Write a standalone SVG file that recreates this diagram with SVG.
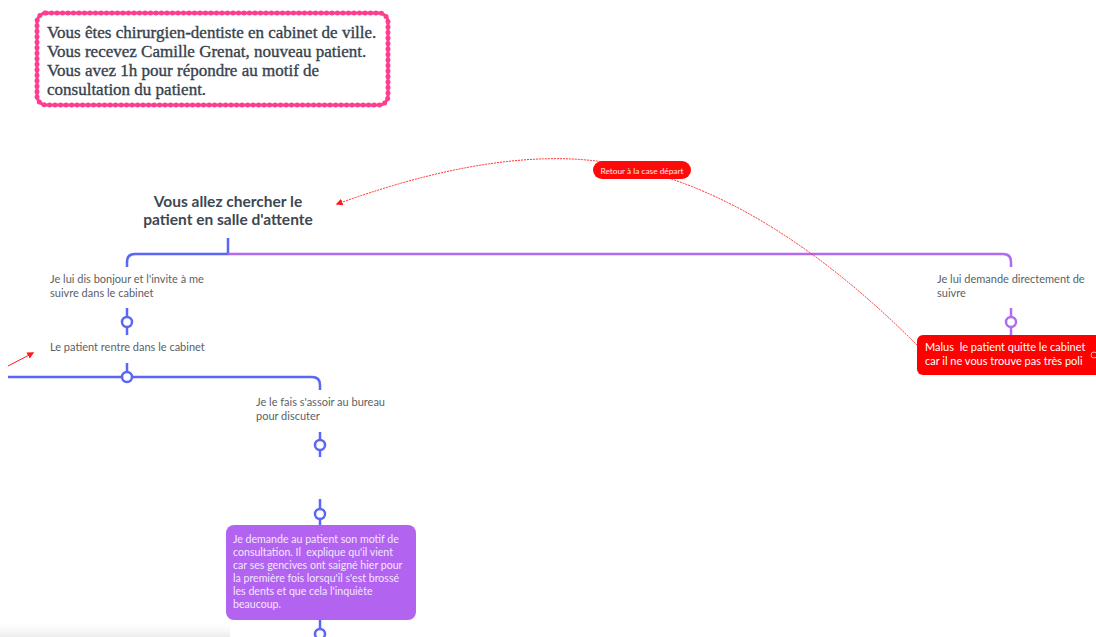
<svg xmlns="http://www.w3.org/2000/svg" width="1096" height="637" viewBox="0 0 1096 637">
<defs>
<marker id="redArrow" viewBox="0 0 10 10" refX="8" refY="5" markerWidth="7" markerHeight="7" orient="auto" markerUnits="userSpaceOnUse">
<path d="M0,0 L10,5 L0,10 z" fill="#ff1a1a"/>
</marker>
<linearGradient id="shade" x1="0" y1="0" x2="0" y2="1">
<stop offset="0" stop-color="#ffffff" stop-opacity="0"/>
<stop offset="1" stop-color="#ececec" stop-opacity="1"/>
</linearGradient>
</defs>
<style>
.serif{font-family:"Liberation Serif","DejaVu Serif",serif;font-size:17px;fill:#36424d;stroke:#36424d;stroke-width:0.35}
.title{font-family:Lato,"Noto Sans","Liberation Sans",sans-serif;font-size:15.5px;font-weight:bold;fill:#3e4753}
.lbl{font-family:Lato,"Noto Sans","Liberation Sans",sans-serif;font-size:11px;fill:#5a5f66}
.wlbl{font-family:Lato,"Noto Sans","Liberation Sans",sans-serif;font-size:10.6px;fill:#f3e6ff}
.rlbl{font-family:Lato,"Noto Sans","Liberation Sans",sans-serif;font-size:11px;fill:#ffffff}
.blue{stroke:#5966f6;stroke-width:2.5;fill:none}
.purp{stroke:#b16af2;stroke-width:2.5;fill:none}
.knobB{fill:#ffffff;stroke:#5966f6;stroke-width:2.5}
.knobP{fill:#ffffff;stroke:#b16af2;stroke-width:2.5}
.rel{stroke:#ff2a2a;stroke-width:1;fill:none;stroke-dasharray:2 1}
</style>
<rect x="0" y="620" width="230" height="17" fill="url(#shade)"/>

<g id="intro">
<rect x="37" y="13" width="351" height="92" rx="9" fill="#ffffff" stroke="#ff3d8e" stroke-width="3"/>
<rect x="37" y="13" width="351" height="92" rx="9" fill="none" stroke="#ff3d8e" stroke-width="5" stroke-dasharray="0 5.5" stroke-linecap="round"/>
<text class="serif" x="47" y="38">Vous êtes chirurgien-dentiste en cabinet de ville.</text>
<text class="serif" x="47" y="57">Vous recevez Camille Grenat, nouveau patient.</text>
<text class="serif" x="47" y="76">Vous avez 1h pour répondre au motif de</text>
<text class="serif" x="47" y="95">consultation du patient.</text>
</g>

<g id="connectors">
<path class="blue" d="M228,238 V254 M228,254 H135 Q127,254 127,262 V267"/>
<path class="purp" d="M228,254 H1003 Q1011,254 1011,262 V267"/>
<path class="blue" d="M127,308 V335"/>
<circle class="knobB" cx="127" cy="322" r="5"/>
<path class="blue" d="M127,363 V377 M8,377 H312 Q320,377 320,385 V390"/>
<circle class="knobB" cx="127" cy="377" r="5"/>
<path class="blue" d="M320,432 V457"/>
<circle class="knobB" cx="320" cy="445" r="5"/>
<path class="blue" d="M320,499 V526"/>
<circle class="knobB" cx="320" cy="514" r="5"/>
<path class="blue" d="M320,620 V637"/>
<circle class="knobB" cx="320" cy="634" r="5"/>
<path class="purp" d="M1011,308 V336"/>
<circle class="knobP" cx="1011" cy="322" r="5"/>
<path class="rel" d="M917,345 Q776,204 641,170 Q525,136 337,204" marker-end="url(#redArrow)"/>
<path d="M8,366 L33,353" stroke="#ff1a1a" stroke-width="1" fill="none" marker-end="url(#redArrow)"/>
</g>

<g id="relLabel">
<rect x="593" y="161" width="98" height="18" rx="9" fill="#ff0a0a"/>
<text x="642" y="173.5" text-anchor="middle" font-family="Lato,'Noto Sans',sans-serif" font-size="8.3" fill="#ffe5e5">Retour à la case départ</text>
</g>

<g id="root">
<text class="title" x="228" y="207" text-anchor="middle">Vous allez chercher le</text>
<text class="title" x="228" y="225" text-anchor="middle">patient en salle d'attente</text>
</g>

<g id="n1">
<text class="lbl" x="50" y="283">Je lui dis bonjour et l'invite à me</text>
<text class="lbl" x="50" y="297">suivre dans le cabinet</text>
</g>

<g id="n2">
<text class="lbl" x="50" y="351">Le patient rentre dans le cabinet</text>
</g>

<g id="n3">
<text class="lbl" x="256" y="406">Je le fais s'assoir au bureau</text>
<text class="lbl" x="256" y="420">pour discuter</text>
</g>

<g id="n4">
<rect x="226" y="525" width="190" height="95" rx="8" fill="#b264f0"/>
<text class="wlbl" x="233" y="543">Je demande au patient son motif de</text>
<text class="wlbl" x="233" y="556" xml:space="preserve">consultation. Il  explique qu'il vient</text>
<text class="wlbl" x="233" y="569">car ses gencives ont saigné hier pour</text>
<text class="wlbl" x="233" y="582">la première fois lorsqu'il s'est brossé</text>
<text class="wlbl" x="233" y="595">les dents et que cela l'inquiète</text>
<text class="wlbl" x="233" y="608">beaucoup.</text>
</g>

<g id="n5">
<text class="lbl" x="937" y="283">Je lui demande directement de</text>
<text class="lbl" x="937" y="297">suivre</text>
</g>

<g id="n6">
<rect x="917" y="335" width="190" height="40" rx="6" fill="#ff0000"/>
<text class="rlbl" x="925" y="351" xml:space="preserve">Malus  le patient quitte le cabinet</text>
<text class="rlbl" x="925" y="365">car il ne vous trouve pas très poli</text>
<circle cx="1094" cy="355" r="3" fill="none" stroke="#ffb3b3" stroke-width="1"/>
</g>
</svg>
